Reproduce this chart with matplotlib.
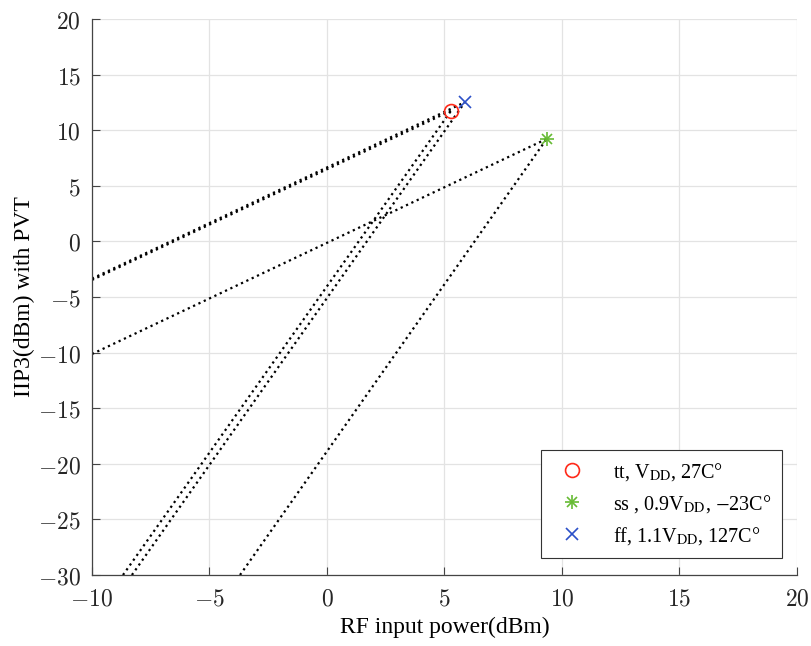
import matplotlib
matplotlib.use("Agg")
import matplotlib.pyplot as plt
from matplotlib.ticker import FuncFormatter
from matplotlib.lines import Line2D
from matplotlib.legend_handler import HandlerTuple

# IIP3 corner points (x: input power dBm, y: IIP3 dBm)
corners = ["tt", "ss", "ff"]
iip3_x = [5.28, 9.35, 5.87]
iip3_y = [11.75, 9.22, 12.52]
labels = ["tt, V$_{\\mathrm{DD}}$, 27C°",
          "ss , 0.9V$_{\\mathrm{DD}}$, $-$23C°",
          "ff, 1.1V$_{\\mathrm{DD}}$, 127C°"]

# fundamental extrapolation lines: start at left edge
fund_x0 = [-10, -10, -10]
fund_y0 = [-3.47, -10.13, -3.35]
# third-order extrapolation lines: start at bottom edge
im3_x0 = [-8.68, -3.70, -8.30]
im3_y0 = [-30, -30, -30]

xticks = [-10, -5, 0, 5, 10, 15, 20]
yticks = [-30, -25, -20, -15, -10, -5, 0, 5, 10, 15, 20]

fig = plt.figure(figsize=(8.11, 6.46), dpi=100)
ax = fig.add_axes([0.1134, 0.1099, 0.8693, 0.8607])

for i in range(3):
    ax.plot([fund_x0[i], iip3_x[i]], [fund_y0[i], iip3_y[i]], ':', color='black', lw=1.6, zorder=2)
    ax.plot([im3_x0[i], iip3_x[i]], [im3_y0[i], iip3_y[i]], ':', color='black', lw=1.6, zorder=2)

green = '#66bb33'
h1, = ax.plot(iip3_x[0], iip3_y[0], 'o', mfc='none', mec='#ff2a1a', ms=10, mew=1.2, ls='none', zorder=3)
ax.plot(iip3_x[1], iip3_y[1], marker='+', color=green, ms=10, mew=1.2, ls='none', zorder=3)
ax.plot(iip3_x[1], iip3_y[1], marker='x', color=green, ms=7, mew=1.2, ls='none', zorder=3)
h3, = ax.plot(iip3_x[2], iip3_y[2], 'x', color='#2b50c8', ms=9, mew=1.2, ls='none', zorder=3)

ss_plus = Line2D([], [], marker='+', color=green, ms=10, mew=1.2, ls='none')
ss_x = Line2D([], [], marker='x', color=green, ms=7, mew=1.2, ls='none')

ax.set_xlim(-10, 20)
ax.set_ylim(-30, 20)
ax.set_xticks(xticks)
ax.set_yticks(yticks)

fmt = FuncFormatter(lambda v, p: "$%d$" % v if v >= 0 else "$-%d$" % (-v))
ax.xaxis.set_major_formatter(fmt)
ax.yaxis.set_major_formatter(fmt)
ax.tick_params(direction='in', length=6, width=0.8, color='#444444', labelsize=17, labelcolor='#262626', pad=8)
for lab in ax.get_xticklabels() + ax.get_yticklabels():
    lab.set_math_fontfamily('cm')

ax.grid(True, color='#e3e3e3', lw=0.9)
ax.set_axisbelow(True)
for s in ['top', 'right']:
    ax.spines[s].set_visible(False)
for s in ['left', 'bottom']:
    ax.spines[s].set_color('#444444')
    ax.spines[s].set_linewidth(0.9)

ax.set_xlabel("RF input power(dBm)", fontsize=17, family='Liberation Serif', labelpad=5)
ax.set_ylabel("IIP3(dBm) with PVT", fontsize=17, family='Liberation Serif', labelpad=2)

leg = ax.legend([h1, (ss_plus, ss_x), h3], labels,
                handler_map={tuple: HandlerTuple(ndivide=1, pad=0)},
                loc='lower right', bbox_to_anchor=(0.979, 0.0306),
                prop={'family': 'Liberation Serif', 'size': 14.5, 'math_fontfamily': 'stix'},
                fancybox=False, edgecolor='#333333', framealpha=1,
                handlelength=2.0, handletextpad=1.0, borderpad=0.55, labelspacing=0.5,
                borderaxespad=0)
leg.get_frame().set_linewidth(0.8)

fig.savefig("out.png", dpi=100)
